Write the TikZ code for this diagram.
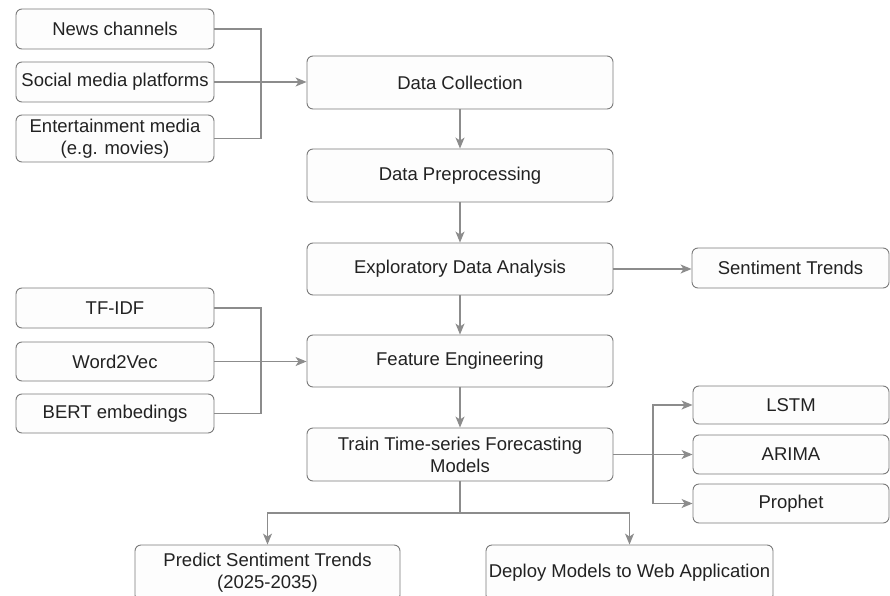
\documentclass[tikz,border=0pt]{standalone}
\usepackage{fontspec}
\setmainfont{Liberation Sans}
\usetikzlibrary{arrows.meta}
\definecolor{linegray}{HTML}{8C8C8C}
\definecolor{boxgray}{HTML}{7A7A7A}
\definecolor{txt}{HTML}{222222}
\definecolor{boxfill}{HTML}{FDFDFD}
\tikzset{
  box/.style={draw=boxgray, line width=0.9pt, fill=boxfill, rounded corners=6pt,
    inner sep=0pt, align=center, text=txt, font=\fontsize{18.5}{22}\selectfont},
  conn/.style={draw=linegray, line width=1.2pt},
  arr/.style={conn, -{Stealth[length=11pt, width=9pt, inset=3pt]}}
}
\begin{document}
\begin{tikzpicture}[x=1pt, y=-1pt]
\useasboundingbox (0,0) rectangle (890,596);
\clip (0,0) rectangle (890,596);
\fill[white] (0,0) rectangle (890,596);
% sources 1
\node[box, minimum width=198pt, minimum height=40pt] (news) at (115,29) {News channels};
\node[box, minimum width=198pt, minimum height=40pt] (social) at (115,82) {Social media platforms};
\node[box, minimum width=198pt, minimum height=47pt] (ent) at (115,138.5) {Entertainment media\\(e.g. movies)};
% main column
\node[box, minimum width=306pt, minimum height=53pt] (dc) at (460,82.5) {Data Collection};
\node[box, minimum width=306pt, minimum height=53pt] (dp) at (460,175.5) {Data Preprocessing};
\node[box, minimum width=306pt, minimum height=52pt] (eda) at (460,269) {Exploratory Data Analysis};
\node[box, minimum width=197pt, minimum height=40pt] (st) at (790.5,268) {Sentiment Trends};
% sources 2
\node[box, minimum width=198pt, minimum height=40pt] (tfidf) at (115,308) {TF-IDF};
\node[box, minimum width=198pt, minimum height=39pt] (w2v) at (115,361.5) {Word2Vec};
\node[box, minimum width=198pt, minimum height=39pt] (bert) at (115,413.5) {BERT embedings};
\node[box, minimum width=306pt, minimum height=52pt] (fe) at (460,361) {Feature Engineering};
\node[box, minimum width=306pt, minimum height=53pt] (train) at (460,454.5) {Train Time-series Forecasting\\Models};
% models
\node[box, minimum width=196pt, minimum height=38pt] (lstm) at (791,405) {LSTM};
\node[box, minimum width=196pt, minimum height=39pt] (arima) at (791,454.5) {ARIMA};
\node[box, minimum width=196pt, minimum height=39pt] (prophet) at (791,503.5) {Prophet};
% outputs
\node[box, minimum width=265pt, minimum height=56pt] (predict) at (267.5,573) {Predict Sentiment Trends\\(2025-2035)};
\node[box, minimum width=287pt, minimum height=56pt] (deploy) at (629.5,573) {Deploy Models to Web Application};
% connectors
\coordinate (b1) at (261,82);
\draw[conn] (news.east) -| (b1) |- (ent.east);
\draw[arr] (social.east) -- (social.east -| dc.west);
\draw[arr] (dc.south) -- (dp.north);
\draw[arr] (dp.south) -- (eda.north);
\draw[arr] (eda.east) -- (eda.east -| st.west);
\draw[arr] (eda.south) -- (fe.north);
\coordinate (b2) at (261,361.5);
\draw[conn] (tfidf.east) -| (b2) |- (bert.east);
\draw[arr] (w2v.east) -- (w2v.east -| fe.west);
\draw[arr] (fe.south) -- (train.north);
\coordinate (b3) at (653,454.5);
\draw[arr] (train.east) -- (arima.west);
\draw[arr] (b3) |- (lstm.west);
\draw[arr] (b3) |- (prophet.west);
\coordinate (b4) at (460,513);
\draw[conn] (train.south) -- (b4);
\draw[arr] (b4) -| (predict.north);
\draw[arr] (b4) -| (deploy.north);
\end{tikzpicture}
\end{document}
